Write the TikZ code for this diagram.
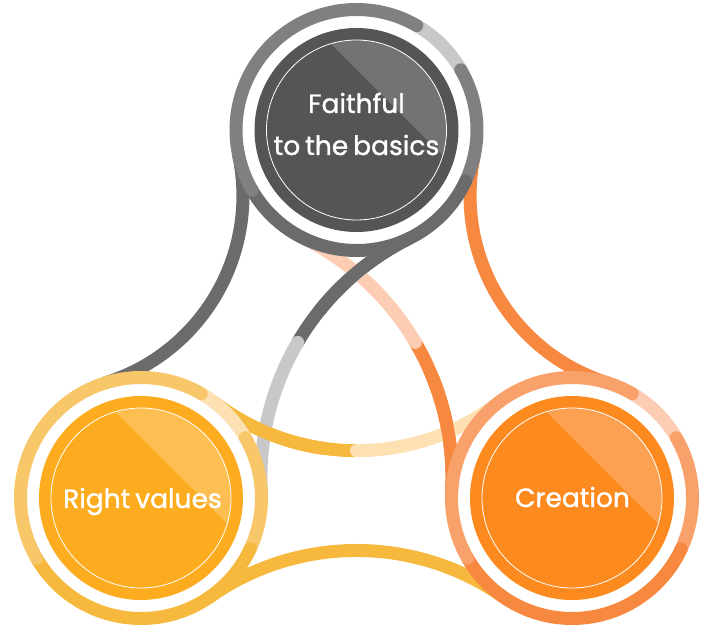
\documentclass[tikz,border=0pt]{standalone}
\usepackage{fontspec}
\setmainfont{Poppins}
\newfontfamily\lblfont{Poppins}[FakeBold=1.2, WordSpace=0.7]
\definecolor{gDisk}{HTML}{555555}
\definecolor{gHl}{HTML}{737373}
\definecolor{gM}{HTML}{808080}
\definecolor{gL}{HTML}{C8C8C8}
\definecolor{gD}{HTML}{6B6B6B}
\definecolor{oDisk}{HTML}{FD8A1E}
\definecolor{oHl}{HTML}{FCA152}
\definecolor{oM}{HTML}{F9A16B}
\definecolor{oL}{HTML}{FDCDB3}
\definecolor{oD}{HTML}{F7883F}
\definecolor{yDisk}{HTML}{FDAC1F}
\definecolor{yHl}{HTML}{FDBF51}
\definecolor{yM}{HTML}{F8C76A}
\definecolor{yL}{HTML}{FDE1B2}
\definecolor{yD}{HTML}{F6B83D}
\tikzset{
  band/.style={line width=13pt},
  rband/.style={line width=13pt, line cap=round},
  lbl/.style={text=white, font=\lblfont\fontsize{26.5}{32}\selectfont, anchor=base, inner sep=0pt},
}
\newcommand\myring[4]{%
  \draw[band, #3] ([shift={(30:120.5pt)}]#1) arc[start angle=30, end angle=60, radius=120.5pt];
  \draw[rband, #2] ([shift={(-25:120.5pt)}]#1) arc[start angle=-25, end angle=30, radius=120.5pt];
  \draw[rband, #4] ([shift={(210:120.5pt)}]#1) arc[start angle=210, end angle=335, radius=120.5pt];
  \draw[rband, #2] ([shift={(60:120.5pt)}]#1) arc[start angle=60, end angle=210, radius=120.5pt];
}
\newcommand\mydisk[3]{%
  \fill[white] (#1) circle[radius=114pt];
  \fill[#2] (#1) circle[radius=102pt];
  \fill[#3] ([shift={(-16.5:90pt)}]#1) arc[start angle=-16.5, end angle=106.5, radius=90pt] -- cycle;
  \draw[white, line width=0.8pt] (#1) circle[radius=90pt];
}
\begin{document}
\begin{tikzpicture}[x=1pt, y=1pt]
\useasboundingbox (0,0) rectangle (710,630);
\coordinate (T) at (356.5,500);
\coordinate (L) at (141,132);
\coordinate (R) at (572,132);
% outer connectors
\draw[band, gD] ([shift={(192.0:120.5pt)}]T) arc[start angle=12.0, end angle=-72.7, radius=196pt];
\draw[band, oD] ([shift={(-12.0:120.5pt)}]T) arc[start angle=168.0, end angle=252.7, radius=196pt];
\draw[band, yD] ([shift={(-54.97:120.5pt)}]L) arc[start angle=125.03, end angle=54.97, radius=255pt];
% inner connectors: dark parts
\draw[band, gD] ([shift={(-63.74:120.5pt)}]T) arc[start angle=116.26, end angle=149.6, radius=267pt];
\draw[band, oD] ([shift={(176.97:120.5pt)}]R) arc[start angle=-3.03, end angle=30.4, radius=267pt];
\draw[band, yD] ([shift={(52.5:120.5pt)}]L) arc[start angle=232.5, end angle=270, radius=233.6pt];
% inner connectors: light parts
\draw[rband, gL] ([shift={(3.03:120.5pt)}]L) arc[start angle=183.03, end angle=149.6, radius=267pt];
\draw[rband, oL] ([shift={(243.74:120.5pt)}]T) arc[start angle=63.74, end angle=30.4, radius=267pt];
\draw[rband, yL] ([shift={(127.5:120.5pt)}]R) arc[start angle=307.5, end angle=270, radius=233.6pt];
% dark parts again over the crossings
\draw[band, gD] ([shift={(-63.74:120.5pt)}]T) arc[start angle=116.26, end angle=141.6, radius=267pt];
\draw[band, oD] ([shift={(176.97:120.5pt)}]R) arc[start angle=-3.03, end angle=22, radius=267pt];
\draw[band, yD] ([shift={(52.5:120.5pt)}]L) arc[start angle=232.5, end angle=262, radius=233.6pt];
% badges
\mydisk{T}{gDisk}{gHl}
\myring{T}{gM}{gL}{gD}
\mydisk{L}{yDisk}{yHl}
\myring{L}{yM}{yL}{yD}
\mydisk{R}{oDisk}{oHl}
\myring{R}{oM}{oL}{oD}
% labels
\node[lbl] (t1) at (356.5,517) {Faithful};
\node[lbl] (t2) at (356.5,475) {to the basics};
\node[lbl] (t3) at (142.5,122) {Right values};
\node[lbl] (t4) at (572.5,123) {Creation};
\end{tikzpicture}
\end{document}
